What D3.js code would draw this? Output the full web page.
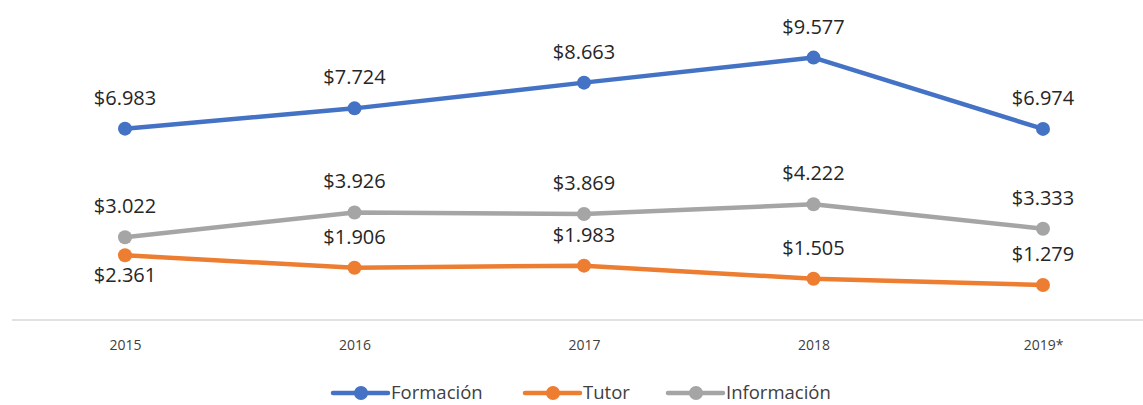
<!DOCTYPE html>
<html>
<head>
<meta charset="utf-8">
<script src="https://cdn.jsdelivr.net/npm/d3@7"></script>
<style>
  body { margin: 0; background: #fff; }
  svg { display: block; font-family: "Open Sans", "Noto Sans", sans-serif; }
  .axis path { stroke: #d9d9d9; stroke-width: 1.5px; }
  .axis line { display: none; }
  .axis text { fill: #404040; font-size: 14px; font-family: "Open Sans", "Noto Sans", sans-serif; }
  .label { fill: #262626; font-size: 20px; }
  .legend text { fill: #404040; font-size: 18.5px; }
</style>
</head>
<body>
<script>
  // datos
  let years = ['2015', '2016', '2017', '2018', '2019*'];
  let formacion = [6.983, 7.724, 8.663, 9.577, 6.974];
  let tutor = [2.361, 1.906, 1.983, 1.505, 1.279];
  let informacion = [3.022, 3.926, 3.869, 4.222, 3.333];

  let series = [
    {name: 'Formación', values: formacion, color: '#4472c4', below: false},
    {name: 'Tutor', values: tutor, color: '#ed7d31', below: true},
    {name: 'Información', values: informacion, color: '#a5a5a5', below: false}
  ];

  let width = 1143;
  let height = 405;

  let svg = d3.select('body').append('svg')
    .attr('width', width)
    .attr('height', height);

  let scaleX = d3.scalePoint()
    .domain(years)
    .range([125, 1043]);

  let scaleY = d3.scaleLinear()
    .domain([0, 10])
    .range([320, 46]);

  // eje x
  let xAxis = d3.axisBottom(scaleX).tickSize(0).tickPadding(20);
  let axisG = svg.append('g')
    .attr('class', 'axis')
    .attr('transform', 'translate(0,320)')
    .call(xAxis);
  axisG.select('.domain').attr('d', 'M12,0H1143');

  let line = d3.line()
    .x(function(d, i) { return scaleX(years[i]); })
    .y(function(d) { return scaleY(d); });

  let fmt = function(v) { return '$' + v.toFixed(3); };

  series.forEach(function(s) {
    let g = svg.append('g');
    g.append('path')
      .datum(s.values)
      .attr('fill', 'none')
      .attr('stroke', s.color)
      .attr('stroke-width', 4.5)
      .attr('stroke-linejoin', 'round')
      .attr('d', line);
    g.selectAll('circle')
      .data(s.values)
      .enter().append('circle')
      .attr('cx', function(d, i) { return scaleX(years[i]); })
      .attr('cy', function(d) { return scaleY(d); })
      .attr('r', 7)
      .attr('fill', s.color);
  });

  // etiquetas
  series.forEach(function(s) {
    svg.append('g').selectAll('text')
      .data(s.values)
      .enter().append('text')
      .attr('class', 'label')
      .attr('text-anchor', 'middle')
      .attr('x', function(d, i) { return scaleX(years[i]); })
      .attr('y', function(d, i) {
        let below = s.below && i === 0;
        return scaleY(d) + (below ? 27 : -24);
      })
      .text(fmt);
  });

  // leyenda
  let legendX = [333, 525, 668];
  let legend = svg.append('g').attr('class', 'legend');
  series.forEach(function(s, i) {
    let x0 = legendX[i];
    let g = legend.append('g').attr('transform', 'translate(' + x0 + ',393)');
    g.append('line')
      .attr('x1', 0).attr('x2', 55)
      .attr('stroke', s.color)
      .attr('stroke-width', 4.5)
      .attr('stroke-linecap', 'round');
    g.append('circle')
      .attr('cx', 28).attr('r', 7)
      .attr('fill', s.color);
    g.append('text')
      .attr('x', 58)
      .attr('dy', '0.33em')
      .text(s.name);
  });
</script>
</body>
</html>
